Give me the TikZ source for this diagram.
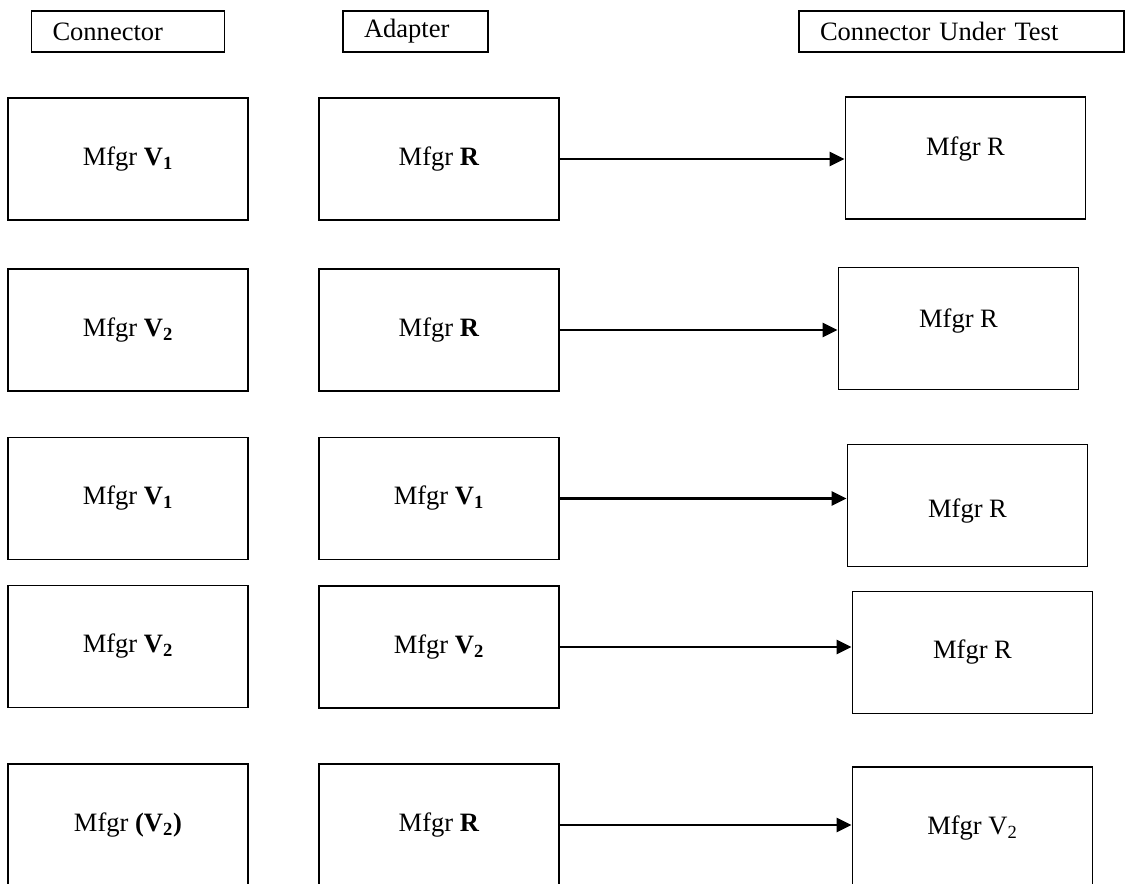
\documentclass[tikz,border=0pt]{standalone}
\usepackage{fontspec}
\setmainfont{Liberation Serif}
\usetikzlibrary{arrows.meta}
\tikzset{
  head/.style={draw, line width=1.1pt, minimum height=0.82cm, inner xsep=0.42cm, align=left},
  part/.style={draw, line width=1.1pt, minimum width=4.8cm, minimum height=2.44cm},
  link/.style={line width=1.5pt, -{Triangle[length=0.3cm,width=0.28cm]}}
}
\newcommand{\bv}[1]{\textbf{V}\textsubscript{\textbf{#1}}}
\begin{document}
\begin{tikzpicture}[x=0.02cm,y=-0.02cm,font=\fontsize{15.1}{18}\selectfont]
  \useasboundingbox (0,0) rectangle (1126,884);
  \clip (0,0) rectangle (1126,884);
  % column titles
  \node[head,text width=3.02cm] (hcon) at (128,31.5) {Connector};
  \node[head,text width=2.06cm] (hadp) at (415.5,31.5) {Adapter};
  \node[head,text width=5.66cm] (hcut) at (961.5,31.5) {Connector Under Test};
  % row 1
  \node[part] (con1) at (128,159) {Mfgr \bv1};
  \node[part] (adp1) at (439,159) {Mfgr \textbf{R}};
  \node[part] (cut1) at (965.5,158) {};
  \node (tcut1) at ([yshift=0.18cm]cut1.center) {Mfgr R};
  % row 2
  \node[part] (con2) at (128,330) {Mfgr \bv2};
  \node[part] (adp2) at (439,330) {Mfgr \textbf{R}};
  \node[part] (cut2) at (958.5,328.5) {};
  \node (tcut2) at ([yshift=0.15cm]cut2.center) {Mfgr R};
  % row 3
  \node[part] (con3) at (128,498.5) {Mfgr \bv1};
  \node[part] (adp3) at (439,498.5) {Mfgr \bv1};
  \node[part] (cut3) at (967.5,505.5) {};
  \node (tcut3) at ([yshift=-0.12cm]cut3.center) {Mfgr R};
  % row 4
  \node[part] (con4) at (128,646.5) {Mfgr \bv2};
  \node[part] (adp4) at (439,647) {Mfgr \bv2};
  \node[part] (cut4) at (972.5,652.5) {};
  \node (tcut4) at (cut4.center) {Mfgr R};
  % row 5, cut off by the page edge
  \node[part] (con5) at (128,825) {Mfgr \textbf{(}\bv2\textbf{)}};
  \node[part] (adp5) at (439,825) {Mfgr \textbf{R}};
  \node[part] (cut5) at (972.5,828) {};
  \node (tcut5) at (cut5.center) {Mfgr V\textsubscript{2}};
  % arrows
  \draw[link] (adp1.east) -- (adp1.east -| cut1.west);
  \draw[link] (adp2.east) -- (adp2.east -| cut2.west);
  \draw[link] (adp3.east) -- (adp3.east -| cut3.west);
  \draw[link] (adp4.east) -- (adp4.east -| cut4.west);
  \draw[link] (adp5.east) -- (adp5.east -| cut5.west);
\end{tikzpicture}
\end{document}
